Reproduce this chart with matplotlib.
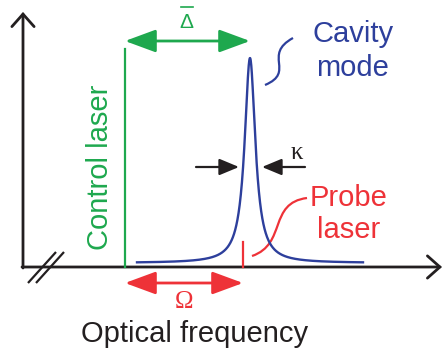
import numpy as np
import matplotlib.pyplot as plt
from matplotlib.patches import FancyArrowPatch, PathPatch
from matplotlib.path import Path

# frequencies on the schematic axis (drawing units, x to the right)
control_freq = 125
cavity_freq = 250
probe_freq = 243
cavity_fwhm = 13
cavity_peak = 205
baseline = 263
axis_y = 267
axis_x = 23

GREEN = '#1ea84e'
BLUE = '#2d3f9c'
RED = '#ee3238'
BLACK = '#231f20'

plt.rcParams['font.family'] = ['Liberation Sans', 'DejaVu Sans']

fig = plt.figure(figsize=(4.43, 3.53), dpi=100)
ax = fig.add_axes([0, 0, 1, 1])
ax.set_xlim(0, 443)
ax.set_ylim(353, 0)
ax.axis('off')


def arrow(p0, p1, style, color, lw, **kw):
    ax.add_patch(FancyArrowPatch(p0, p1, arrowstyle=style, color=color, lw=lw,
                                 shrinkA=0, shrinkB=0, mutation_scale=1, **kw))


# axes with open arrowheads
arrow((axis_x, axis_y + 1), (axis_x, 12), '->,head_length=9,head_width=8', BLACK, 2.0,
      joinstyle='miter')
arrow((axis_x - 1, axis_y), (442, axis_y), '->,head_length=9,head_width=8', BLACK, 2.0,
      joinstyle='miter')

# axis break marks
for dx in (0, 8):
    ax.plot([28 + dx, 56 + dx], [283, 252], color=BLACK, lw=1.6, solid_capstyle='butt')

# cavity mode: Lorentzian line
x = np.linspace(cavity_freq - 113, cavity_freq + 113, 800)
g = cavity_fwhm / 2
y = baseline - cavity_peak / (1 + ((x - cavity_freq) / g) ** 2)
ax.plot(x, y, color=BLUE, lw=1.7)

# control laser line
ax.plot([control_freq, control_freq], [axis_y, 49], color=GREEN, lw=1.6)
ax.text(100, 167, 'Control laser', color=GREEN, fontsize=21, rotation=90,
        ha='center', va='center')

# detuning arrow
arrow((control_freq, 41), (cavity_freq, 41), '<|-|>,head_length=19,head_width=7', GREEN, 2.0)
ax.text(186.5, 22, 'Δ', color=GREEN, fontsize=15, ha='center', va='center')
ax.plot([181, 193], [6.5, 6.5], color=GREEN, lw=1.2)

# probe laser
ax.plot([probe_freq, probe_freq], [axis_y, 242], color=RED, lw=1.6)
arrow((control_freq, 283), (probe_freq, 283), '<|-|>,head_length=19,head_width=7', RED, 2.0)
ax.text(184, 302, 'Ω', color=RED, fontsize=18, family='Liberation Serif',
        ha='center', va='center')

verts = [(252, 256), (287, 244), (268, 203), (307, 198)]
ax.add_patch(PathPatch(Path(verts, [Path.MOVETO] + [Path.CURVE4] * 3),
                       fc='none', ec=RED, lw=1.6))
ax.text(349, 214, 'Probe\nlaser', color=RED, fontsize=21, ha='center', va='center',
        linespacing=1.2)

# linewidth arrows
arrow((196, 167), (239, 167), '-|>,head_length=12,head_width=5', BLACK, 1.6)
arrow((305, 167), (262, 167), '-|>,head_length=12,head_width=5', BLACK, 1.6)
ax.text(297, 153, 'κ', color=BLACK, fontsize=18, family='Liberation Serif',
        ha='center', va='center')

# cavity mode label
verts = [(293, 38), (262, 55), (296, 72), (265, 85)]
ax.add_patch(PathPatch(Path(verts, [Path.MOVETO] + [Path.CURVE4] * 3),
                       fc='none', ec=BLUE, lw=1.6))
ax.text(353, 51, 'Cavity\nmode', color=BLUE, fontsize=21, ha='center', va='center',
        linespacing=1.3)

ax.text(195, 334, 'Optical frequency', color=BLACK, fontsize=21, ha='center', va='center')

fig.savefig('out.png', dpi=100)
